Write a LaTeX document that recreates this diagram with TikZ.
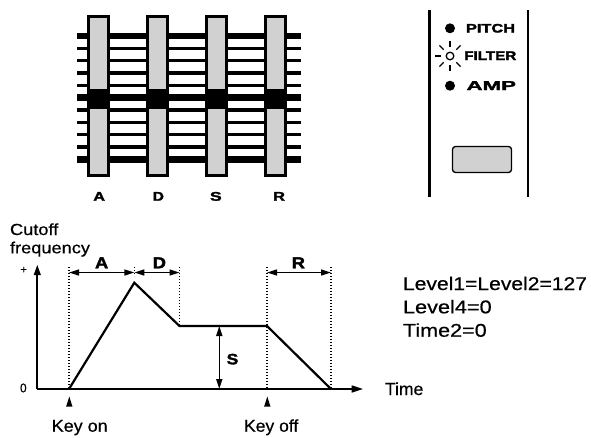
\documentclass[tikz,border=0pt]{standalone}
\usepackage{fontspec}
\setmainfont{Liberation Sans}[FakeBold=0.5]
\newfontfamily\heavyfam{Liberation Sans}[BoldFeatures={FakeBold=2}]
\usepackage{graphicx}
\usetikzlibrary{arrows.meta}
\definecolor{knobgray}{gray}{0.82}
% #1 width, #2 cap height, #3 text
\newcommand{\fitT}[3]{\pgfmathsetmacro\fsz{#2/0.716}\fontsize{\fsz pt}{\fsz pt}\selectfont\resizebox{#1pt}{\height}{#3}}
\begin{document}
\begin{tikzpicture}[x=1pt,y=-1pt,
  txt/.style={inner sep=0pt,outer sep=0pt,anchor=base west},
  ctxt/.style={inner sep=0pt,outer sep=0pt,anchor=center},
  bar/.style={line cap=butt},
  sliderbody/.style={fill=knobgray,draw=black,line width=3pt},
  panelline/.style={line width=2.3pt},
  axisline/.style={line width=2.2pt},
  envline/.style={line width=2.2pt,line join=miter},
  dotline/.style={line width=1.6pt,dash pattern=on 1.3pt off 1.7pt},
  dimarrow/.style={line width=1.5pt,{Triangle[length=10pt,width=6pt]}-{Triangle[length=10pt,width=6pt]}},
  ray/.style={line width=1.2pt}
]
\useasboundingbox (0,0) rectangle (591,437);

% ---------- slider bank ----------
\foreach \k/\w in {0/6.5,1/3.3,2/3.3,3/3.3,4/3.3,5/6.5,6/3.3,7/3.3,8/3.3,9/3.3,10/6.5}{
  \draw[bar,line width=\w pt] (77,{36+12.33*\k}) -- (301,{36+12.33*\k});
}
\foreach \cx in {98.7,157.7,216.7,275.7}{
  \filldraw[sliderbody] (\cx-9.8,16.5) rectangle (\cx+9.8,175.2);
  \fill (\cx-11.3,89) rectangle (\cx+11.3,109);
}
\node[txt] (lA) at (93.3,200.7) {\fitT{11.7}{9}{\heavyfam\bfseries A}};
\node[txt] (lD) at (152.7,200.7) {\fitT{11.3}{9}{\heavyfam\bfseries D}};
\node[txt] (lS) at (210,200.7) {\fitT{11.7}{9}{\heavyfam\bfseries S}};
\node[txt] (lR) at (273.3,200.7) {\fitT{11.7}{9}{\heavyfam\bfseries R}};

% ---------- panel ----------
\draw[panelline] (429.5,10) -- (429.5,197);
\draw[panelline] (527.8,10) -- (527.8,197);
\fill (450,28.3) circle (5);
\fill (450,85.7) circle (5);
\draw[line width=1.3pt] (450,56) circle (3.8);
\foreach \a in {45,90,135,180,225,270,315}{
  \draw[ray] (450,56) ++(\a:9) -- ++(\a:6);
}
\node[txt] (pitch) at (466,32.5) {\fitT{49}{8.8}{\heavyfam\bfseries PITCH}};
\node[txt] (filter) at (464.3,60) {\fitT{52}{9}{\heavyfam\bfseries FILTER}};
\node[txt] (amp) at (466.5,90) {\fitT{49.5}{9.2}{\heavyfam\bfseries AMP}};
\filldraw[fill=knobgray,line width=1.3pt,rounded corners=3pt] (452.5,146.5) rectangle (511.5,172.5);

% ---------- graph ----------
\coordinate (O) at (37.3,389);
\coordinate (Ytop) at (37.3,264.5);
\coordinate (Xend) at (363.3,389);
\draw[axisline,-{Triangle[length=10.5pt,width=6.5pt]}] (O) -- (Ytop);
\draw[axisline,-{Triangle[length=11.6pt,width=6.7pt]}] (O) -- (Xend);

\coordinate (P0) at (69,389);
\coordinate (P1) at (134.3,282.7);
\coordinate (P2) at (179.5,326);
\coordinate (P3) at (267,326);
\coordinate (P4) at (331,389);
\draw[envline] (P0) -- (P1) -- (P2) -- (P3) -- (P4);

% dotted guides
\coordinate (T0) at (69,267);
\coordinate (T1) at (134.3,267);
\coordinate (B1) at (134.3,276);
\coordinate (T2) at (179.5,267);
\coordinate (T3) at (267,267);
\coordinate (B3) at (267,389);
\coordinate (T4) at (331,267);
\draw[dotline] (T0) -- (P0);
\draw[dotline] (T1) -- (B1);
\draw[dotline] (T2) -- (P2);
\draw[dotline] (T3) -- (B3);
\draw[dotline] (T4) -- (P4);

% dimension arrows
\coordinate (a0) at (69,272.5);
\coordinate (a1) at (134.3,272.5);
\coordinate (a2) at (179.5,272.5);
\coordinate (a3) at (267,272.5);
\coordinate (a4) at (331,272.5);
\draw[dimarrow] (a0) -- (a1);
\draw[dimarrow] (a1) -- (a2);
\draw[dimarrow] (a3) -- (a4);
\coordinate (s0) at (219.3,326);
\coordinate (s1) at (219.3,389);
\draw[dimarrow] (s0) -- (s1);

\node[txt] (gA) at (95,268.3) {\fitT{13.3}{11.4}{\heavyfam\bfseries A}};
\node[txt] (gD) at (152.7,268.3) {\fitT{13.3}{11.4}{\heavyfam\bfseries D}};
\node[txt] (gR) at (291.7,268.3) {\fitT{13.3}{11.4}{\heavyfam\bfseries R}};
\node[txt] (gS) at (226.7,364.3) {\fitT{11.6}{10.8}{\heavyfam\bfseries S}};

% key markers
\fill (69.3,396.5) -- (72.5,406.7) -- (66.1,406.7) -- cycle;
\fill (267.3,396.5) -- (270.5,406.7) -- (264.1,406.7) -- cycle;

% texts
\node[txt] (cut) at (10,235) {\fitT{48.3}{11.5}{Cutoff}};
\node[txt] (freq) at (10,253.3) {\fitT{80}{11.5}{frequency}};
\node[ctxt] (plus) at (23.7,270) {\fitT{6.5}{8}{+}};
\node[txt] (zero) at (20,392.3) {\fitT{6.7}{9}{0}};
\node[txt] (time) at (385,395) {\fitT{38.3}{12.5}{Time}};
\node[txt] (keyon) at (51.7,431.7) {\fitT{56}{12.2}{Key on}};
\node[txt] (keyoff) at (244,431.7) {\fitT{54.3}{12.2}{Key off}};
\node[txt] (lv1) at (403,290) {\fitT{184}{13.2}{Level1=Level2=127}};
\node[txt] (lv4) at (403,313.3) {\fitT{88.7}{13.2}{Level4=0}};
\node[txt] (t2) at (403,336.7) {\fitT{83.7}{13.2}{Time2=0}};
\end{tikzpicture}
\end{document}
